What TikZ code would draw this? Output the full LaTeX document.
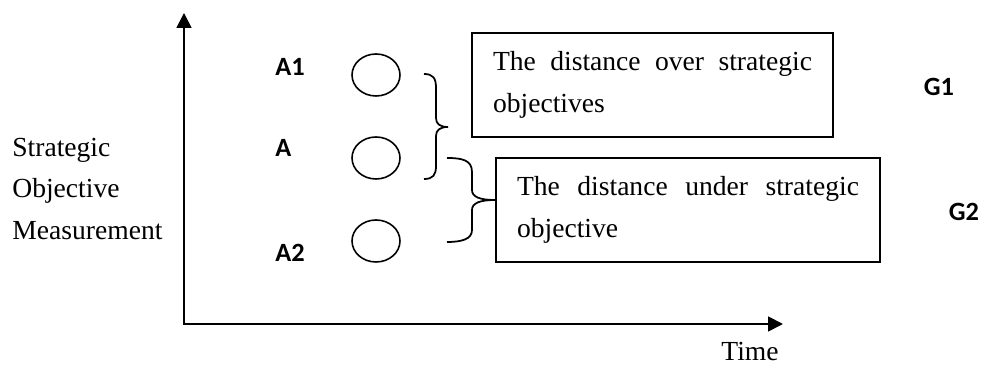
\documentclass[tikz,border=0pt]{standalone}
\usepackage{fontspec}
\setmainfont{Liberation Serif}
\newfontfamily\labelfont{Carlito}
\usetikzlibrary{arrows.meta,shapes.geometric}
\tikzset{
  gap/.style={draw, ellipse, line width=0.9pt, minimum width=0.96cm,
    minimum height=0.84cm, inner sep=0pt},
  tag/.style={font=\labelfont\bfseries\fontsize{15}{17}\selectfont, inner sep=0pt},
  note/.style={draw, line width=1pt, inner xsep=0.42cm, minimum height=2.08cm,
    align=justify, font=\fontsize{15.7}{23.8}\selectfont},
  curly/.style={line width=1pt},
}
\begin{document}
\begin{tikzpicture}[x=0.02cm, y=-0.02cm]
  \useasboundingbox (0,0) rectangle (981,367);
  % axes
  \coordinate (top) at (184,13);
  \coordinate (o) at (184,324);
  \coordinate (right) at (783,324);
  \draw[line width=1pt, {Triangle[length=8.5pt,width=8.5pt]}-{Triangle[length=8.5pt,width=8.5pt]}]
    (top) -- (o) -- (right);
  \node[anchor=west, align=left, inner sep=0pt, font=\fontsize{15.7}{23.8}\selectfont]
    (axis) at (12,189) {Strategic\\Objective\\Measurement};
  \node[font=\fontsize{15.7}{18}\selectfont, inner sep=0pt] (time) at (750,352) {Time};
  % levels
  \node[gap] (c1) at (376,75) {};
  \node[gap] (c0) at (376,158) {};
  \node[gap] (c2) at (376,241) {};
  \node[tag, anchor=west] (a1) at (275,67) {A1};
  \node[tag, anchor=west] (a0) at (275,148) {A};
  \node[tag, anchor=west] (a2) at (275,253) {A2};
  \node[tag] (g1) at (939,87) {G1};
  \node[tag] (g2) at (964,212) {G2};
  % distances
  \node[note, text width=6.38cm] (over) at (652.5,85)
    {The distance over strategic objectives};
  \node[note, text width=6.84cm] (under) at (688,210)
    {The distance under strategic objective};
  \coordinate (b1s) at (424,74);
  \coordinate (b1m) at (448,127);
  \coordinate (b1e) at (424,179);
  \coordinate (b2s) at (447,158);
  \coordinate (b2m) at (495,200);
  \coordinate (b2e) at (447,242);
  \draw[curly] (b1s) .. controls (433,74) and (436,78) .. (436,88) -- (436,118)
    .. controls (436,124) and (440,127) .. (b1m)
    .. controls (440,127) and (436,130) .. (436,136) -- (436,166)
    .. controls (436,175) and (433,179) .. (b1e);
  \draw[curly] (b2s) .. controls (462,158) and (472,160) .. (472,172) -- (472,190)
    .. controls (472,197) and (480,200) .. (b2m)
    .. controls (480,200) and (472,203) .. (472,210) -- (472,230)
    .. controls (472,239) and (462,242) .. (b2e);
\end{tikzpicture}
\end{document}
